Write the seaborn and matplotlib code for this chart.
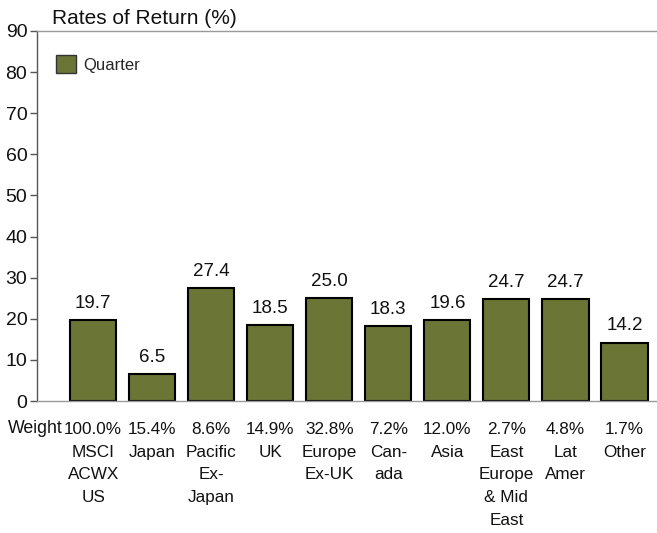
import matplotlib
matplotlib.use("Agg")
import matplotlib.pyplot as plt
import seaborn as sns
import pandas as pd
from matplotlib.patches import Patch

regions = ["MSCI\nACWX\nUS", "Japan", "Pacific\nEx-\nJapan", "UK", "Europe\nEx-UK",
           "Can-\nada", "Asia", "East\nEurope\n& Mid\nEast", "Lat\nAmer", "Other"]
weights = ["100.0%", "15.4%", "8.6%", "14.9%", "32.8%", "7.2%", "12.0%", "2.7%", "4.8%", "1.7%"]
quarter = [19.7, 6.5, 27.4, 18.5, 25.0, 18.3, 19.6, 24.7, 24.7, 14.2]

sns.set_style("white")
plt.rcParams["font.family"] = ["Liberation Sans", "DejaVu Sans"]

df = pd.DataFrame({"Region": regions, "Quarter": quarter})
bar_color = "#6b7536"
ink = "#111111"

fig = plt.figure(figsize=(6.57, 5.33), dpi=100)
ax = fig.add_axes([37 / 657, 1 - 401 / 533, 1 - 37 / 657, (401 - 31) / 533])

sns.barplot(data=df, x="Region", y="Quarter", color=bar_color, saturation=1,
            width=0.78, edgecolor="black", linewidth=1.5, ax=ax)

for i, v in enumerate(quarter):
    ax.text(i, v + 2.0, f"{v:.1f}", ha="center", va="bottom", fontsize=13.5, color=ink)

ax.set_xlim(-0.95, 9.55)
ax.set_ylim(0, 90)
ax.set_yticks(range(0, 91, 10))
ax.tick_params(axis="y", direction="out", length=5, width=1, color="#555555",
               labelsize=14, pad=2, left=True, labelcolor=ink)
ax.set_xticks(range(len(regions)))
ax.set_xticklabels([w + "\n" + r for w, r in zip(weights, regions)],
                   fontsize=12.3, linespacing=1.64, color=ink)
ax.tick_params(axis="x", length=0, pad=15)
ax.set_xlabel("")
ax.set_ylabel("")

for side in ["top", "bottom"]:
    ax.spines[side].set_color("#999999")
    ax.spines[side].set_linewidth(1)
ax.spines["left"].set_color("#555555")
ax.spines["left"].set_linewidth(1)
ax.spines["right"].set_visible(False)

ax.text(-0.95 - 0.49, -6.8, "Weight", ha="left", va="center", fontsize=12.8, color=ink)

fig.text(52 / 657, 1 - 18 / 533, "Rates of Return (%)", ha="left", va="center",
         fontsize=15, color=ink)

handle = Patch(facecolor=bar_color, edgecolor="#333333", label="Quarter")
ax.legend(handles=[handle], loc="upper left", frameon=False, fontsize=12,
          handlelength=1.2, handleheight=1.3, handletextpad=0.45,
          bbox_to_anchor=(0.006, 0.975))

fig.savefig("out.png", dpi=100)
